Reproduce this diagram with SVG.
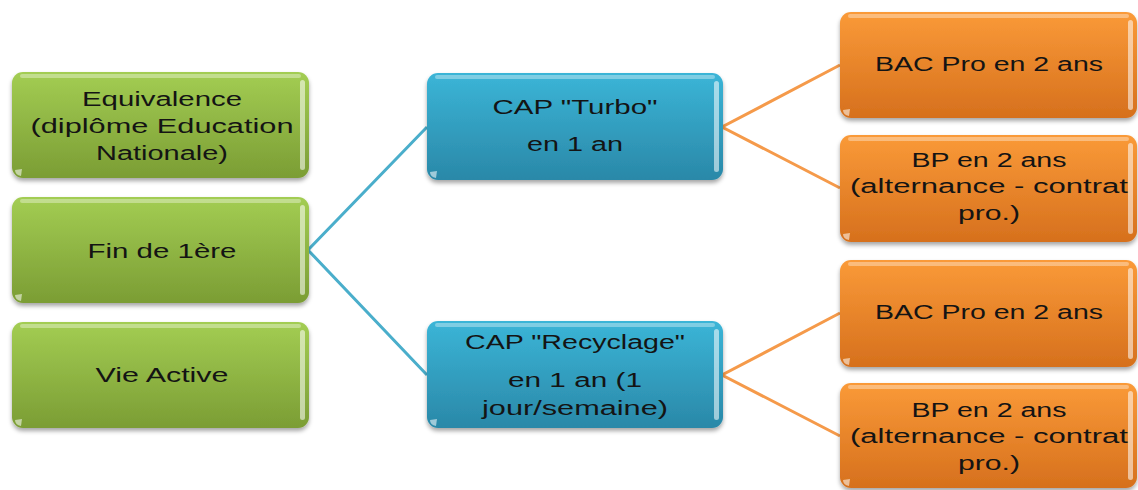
<svg xmlns="http://www.w3.org/2000/svg" width="1138" height="490" viewBox="0 0 1138 490">
<style>
.t{font-family:"Liberation Sans","Open Sans",sans-serif;font-size:20px;fill:#141414;text-anchor:middle}
.c-blue{stroke:#4aaecb;stroke-width:3;fill:none}
.c-orange{stroke:#f59a4a;stroke-width:3;fill:none}
.hl{fill:#ffffff;opacity:0.35}
.edge{fill:#ffffff;opacity:0.55}
</style>
<defs>
<linearGradient id="gG" x1="0" y1="0" x2="0" y2="1"><stop offset="0" stop-color="#a3cd53"/><stop offset="1" stop-color="#7b9d34"/></linearGradient>
<linearGradient id="gB" x1="0" y1="0" x2="0" y2="1"><stop offset="0" stop-color="#3bb5d7"/><stop offset="1" stop-color="#2a88a8"/></linearGradient>
<linearGradient id="gO" x1="0" y1="0" x2="0" y2="1"><stop offset="0" stop-color="#fa9a38"/><stop offset="1" stop-color="#d6701d"/></linearGradient>
<filter id="sh" x="-5%" y="-5%" width="110%" height="120%"><feDropShadow dx="0" dy="3" stdDeviation="2" flood-color="#000" flood-opacity="0.35"/></filter>
</defs>
<rect width="1138" height="490" fill="#ffffff"/>
<g id="connectors">
<polyline class="c-blue" points="427,127 308,250 427,375"/>
<polyline class="c-orange" points="840,65 722,127 840,188"/>
<polyline class="c-orange" points="840,313 722,375 840,436"/>
</g>
<g id="n-equivalence" transform="translate(12,72)">
<rect width="297" height="106" rx="11" fill="url(#gG)" filter="url(#sh)"/>
<rect class="hl" x="8" y="2" width="281" height="4" rx="2"/>
<rect class="edge" x="288" y="8" width="5" height="90" rx="2.5"/>
<path class="edge" d="M3,98 Q3,103 9,104 L10,97 Z"/>
<text class="t" x="150" y="34" textLength="160" lengthAdjust="spacingAndGlyphs">Equivalence</text>
<text class="t" x="150" y="61" textLength="263" lengthAdjust="spacingAndGlyphs">(diplôme Education</text>
<text class="t" x="150" y="88" textLength="132" lengthAdjust="spacingAndGlyphs">Nationale)</text>
</g>
<g id="n-fin" transform="translate(12,197)">
<rect width="297" height="106" rx="11" fill="url(#gG)" filter="url(#sh)"/>
<rect class="hl" x="8" y="2" width="281" height="4" rx="2"/>
<rect class="edge" x="288" y="8" width="5" height="90" rx="2.5"/>
<path class="edge" d="M3,98 Q3,103 9,104 L10,97 Z"/>
<text class="t" x="150" y="61" textLength="149" lengthAdjust="spacingAndGlyphs">Fin de 1ère</text>
</g>
<g id="n-vie" transform="translate(12,322)">
<rect width="297" height="106" rx="11" fill="url(#gG)" filter="url(#sh)"/>
<rect class="hl" x="8" y="2" width="281" height="4" rx="2"/>
<rect class="edge" x="288" y="8" width="5" height="90" rx="2.5"/>
<path class="edge" d="M3,98 Q3,103 9,104 L10,97 Z"/>
<text class="t" x="150" y="60" textLength="133" lengthAdjust="spacingAndGlyphs">Vie Active</text>
</g>
<g id="n-turbo" transform="translate(427,73)">
<rect width="296" height="107" rx="11" fill="url(#gB)" filter="url(#sh)"/>
<rect class="hl" x="8" y="2" width="280" height="4" rx="2"/>
<rect class="edge" x="287" y="8" width="5" height="91" rx="2.5"/>
<path class="edge" d="M3,99 Q3,104 9,105 L10,98 Z"/>
<text class="t" x="148" y="41" textLength="165" lengthAdjust="spacingAndGlyphs">CAP "Turbo"</text>
<text class="t" x="148" y="78" textLength="96" lengthAdjust="spacingAndGlyphs">en 1 an</text>
</g>
<g id="n-recyclage" transform="translate(427,321)">
<rect width="296" height="107" rx="11" fill="url(#gB)" filter="url(#sh)"/>
<rect class="hl" x="8" y="2" width="280" height="4" rx="2"/>
<rect class="edge" x="287" y="8" width="5" height="91" rx="2.5"/>
<path class="edge" d="M3,99 Q3,104 9,105 L10,98 Z"/>
<text class="t" x="148" y="28" textLength="220" lengthAdjust="spacingAndGlyphs">CAP "Recyclage"</text>
<text class="t" x="148" y="66" textLength="134" lengthAdjust="spacingAndGlyphs">en 1 an (1</text>
<text class="t" x="148" y="94" textLength="186" lengthAdjust="spacingAndGlyphs">jour/semaine)</text>
</g>
<g id="n-bac1" transform="translate(840,12)">
<rect width="297" height="106" rx="11" fill="url(#gO)" filter="url(#sh)"/>
<rect class="hl" x="8" y="2" width="281" height="4" rx="2"/>
<rect class="edge" x="288" y="8" width="5" height="90" rx="2.5"/>
<path class="edge" d="M3,98 Q3,103 9,104 L10,97 Z"/>
<text class="t" x="149" y="59" textLength="228" lengthAdjust="spacingAndGlyphs">BAC Pro en 2 ans</text>
</g>
<g id="n-bp1" transform="translate(840,135)">
<rect width="297" height="107" rx="11" fill="url(#gO)" filter="url(#sh)"/>
<rect class="hl" x="8" y="2" width="281" height="4" rx="2"/>
<rect class="edge" x="288" y="8" width="5" height="91" rx="2.5"/>
<path class="edge" d="M3,99 Q3,104 9,105 L10,98 Z"/>
<text class="t" x="149" y="32" textLength="155" lengthAdjust="spacingAndGlyphs">BP en 2 ans</text>
<text class="t" x="149" y="58" textLength="278" lengthAdjust="spacingAndGlyphs">(alternance - contrat</text>
<text class="t" x="149" y="85" textLength="62" lengthAdjust="spacingAndGlyphs">pro.)</text>
</g>
<g id="n-bac2" transform="translate(840,260)">
<rect width="297" height="107" rx="11" fill="url(#gO)" filter="url(#sh)"/>
<rect class="hl" x="8" y="2" width="281" height="4" rx="2"/>
<rect class="edge" x="288" y="8" width="5" height="91" rx="2.5"/>
<path class="edge" d="M3,99 Q3,104 9,105 L10,98 Z"/>
<text class="t" x="149" y="59" textLength="228" lengthAdjust="spacingAndGlyphs">BAC Pro en 2 ans</text>
</g>
<g id="n-bp2" transform="translate(840,383)">
<rect width="297" height="105" rx="11" fill="url(#gO)" filter="url(#sh)"/>
<rect class="hl" x="8" y="2" width="281" height="4" rx="2"/>
<rect class="edge" x="288" y="8" width="5" height="89" rx="2.5"/>
<path class="edge" d="M3,97 Q3,102 9,103 L10,96 Z"/>
<text class="t" x="149" y="34" textLength="155" lengthAdjust="spacingAndGlyphs">BP en 2 ans</text>
<text class="t" x="149" y="60" textLength="278" lengthAdjust="spacingAndGlyphs">(alternance - contrat</text>
<text class="t" x="149" y="87" textLength="62" lengthAdjust="spacingAndGlyphs">pro.)</text>
</g>
</svg>
